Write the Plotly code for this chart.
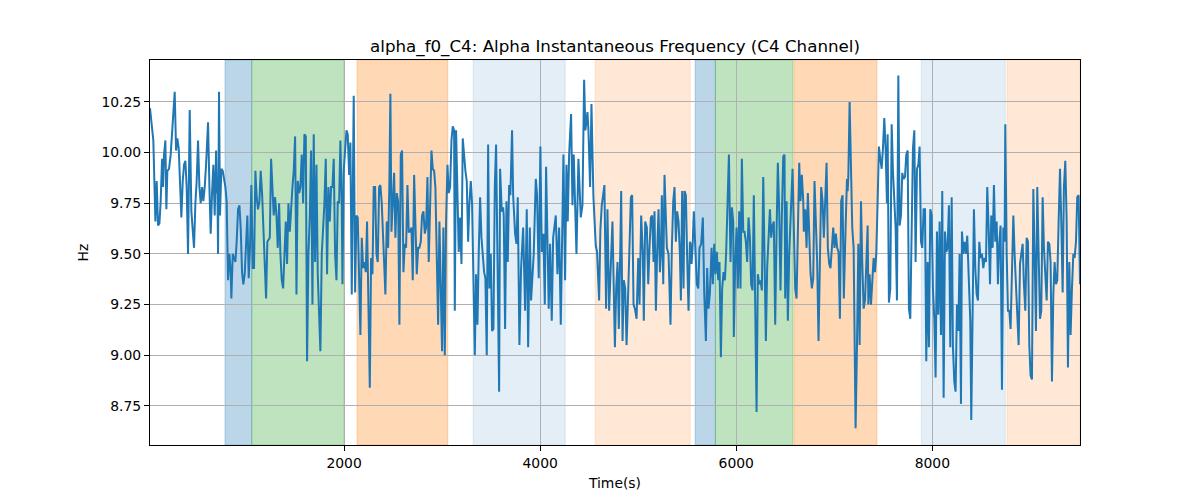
import plotly.graph_objects as go

title_text = "alpha_f0_C4: Alpha Instantaneous Frequency (C4 Channel)"
x_label = "Time(s)"
y_label = "Hz"

# ---- data: time (s) and instantaneous frequency (Hz) ----
t1 = [20,54,75,88,102,116,129,143,153,163,177,187,197,214,231,245,258,272,286,299,313,326,340,354,367,381,394,408,425,442,456,469,483,496,510,524,537,551,564,578,592,612,626,639,653,666,680,694,700,707,714,724,734,748,762,775,789,802,809,816,830,843,850,864,877,891,904,918,932,945,959,972,986,1000,1013,1027,1040,1054,1068,1081,1095,1108,1122,1136,1149,1163,1176,1190,1204,1217]
v1 = [10.22,10.06,9.66,9.86,9.64,9.65,9.76,9.97,9.83,9.99,10.06,9.72,9.91,9.92,9.99,10.09,10.15,10.30,10.01,10.07,10.02,9.86,9.68,9.86,9.94,9.96,9.83,9.50,10.21,9.71,9.60,9.53,9.75,9.86,10.06,9.83,9.75,9.83,9.76,9.83,9.94,10.15,9.83,9.60,9.80,9.94,9.69,10.01,9.80,9.86,9.50,10.30,9.69,9.92,9.91,9.87,9.83,9.76,9.53,9.37,9.50,9.41,9.28,9.50,9.48,9.46,9.56,9.72,9.74,9.63,9.41,9.35,9.40,9.56,9.69,9.38,9.53,9.84,9.43,9.43,9.91,9.78,9.72,9.76,9.91,9.80,9.63,9.43,9.28,9.56]

t2 = [1242,1255,1269,1282,1296,1310,1323,1337,1350,1364,1378,1391,1405,1418,1432,1446,1459,1473,1486,1500,1514,1527,1541,1554,1568,1582,1595,1609,1622,1636,1650,1663,1677,1690,1704,1718,1731,1745,1758,1772,1786,1799,1813,1826,1840,1854,1867,1881,1894,1908,1922,1935,1949,1962,1976,1983,1996,2010,2024,2037,2051,2064,2078,2092,2098,2112,2126,2139,2153,2166,2180,2194,2207,2221,2234,2248,2262,2275,2289,2302,2316,2330,2343,2357,2370,2384,2398,2411]
v2 = [9.58,9.97,9.83,9.69,9.78,9.69,9.53,9.75,9.50,9.37,9.33,9.50,9.66,9.45,9.75,9.61,9.75,9.83,9.91,10.08,9.30,9.86,9.80,9.83,9.99,9.75,10.09,10.08,8.97,9.50,9.69,10.01,9.25,10.09,9.46,9.94,9.40,9.17,9.02,9.50,9.63,9.75,9.97,9.40,9.83,9.66,9.83,9.83,9.97,9.50,9.37,9.76,9.75,10.06,9.75,9.35,9.91,10.01,10.11,10.09,9.89,10.05,9.30,9.99,10.28,9.31,9.69,9.68,9.33,9.10,9.58,9.43,9.46,9.41,9.66,9.17,8.84,9.48,9.40,9.83,9.83,9.50,9.46,9.83,9.84,9.75,9.56,9.41]

t3 = [2421,2435,2449,2462,2472,2483,2496,2510,2523,2537,2551,2564,2578,2591,2605,2619,2632,2646,2659,2673,2687,2700,2714,2727,2741,2755,2768,2782,2795,2809,2823,2836,2850,2863,2877,2891,2904,2918,2931,2945,2959,2972,2986,2999,3013,3027,3040,3054,3067,3081,3095,3108,3122,3129,3142,3156,3169,3183,3197,3210,3224,3237,3251,3265,3278,3292,3305,3319,3333,3346,3360,3373,3387,3401,3414,3428,3441,3455,3469,3482,3496,3509,3523,3537,3550]
v3 = [9.30,9.66,9.53,9.86,10.29,9.61,9.80,9.90,9.58,9.80,9.76,9.15,9.99,10.01,9.41,9.55,9.53,9.84,9.61,9.61,9.63,9.37,9.89,9.63,9.40,9.53,9.53,9.56,9.69,9.71,9.60,9.63,9.88,9.46,9.80,10.01,9.92,9.91,9.83,9.52,9.15,9.66,9.33,9.02,9.63,9.00,9.66,9.94,9.80,9.83,10.06,10.13,10.11,9.22,10.11,9.86,9.51,9.68,9.45,10.07,9.96,9.91,9.86,9.56,9.75,9.86,9.75,9.33,9.00,9.40,9.15,9.50,9.78,9.58,9.50,9.41,9.38,9.00,10.04,9.33,9.50,9.12,9.13,9.83,10.04]

t4 = [3581,3591,3608,3622,3628,3642,3656,3669,3683,3696,3713,3724,3744,3758,3771,3788,3805,3826,3846,3863,3877,3894,3907,3934,3955,3968,3985,4002,4016,4033,4047,4060,4074,4087,4101,4118,4132,4159,4176,4193,4210,4223,4237,4254,4268,4281,4295,4315,4329,4342,4370,4390,4414,4431,4448,4461,4482,4492,4509,4523,4543,4567,4580,4601,4614,4628,4655,4672,4686,4703,4737]
v4 = [8.82,9.92,9.71,9.73,9.69,9.13,9.76,9.46,9.84,9.79,10.11,9.79,9.60,9.55,9.78,9.05,9.43,9.63,9.22,9.72,9.04,9.63,9.27,9.50,9.87,9.79,9.38,10.03,9.51,9.60,9.25,9.93,9.55,9.23,9.55,9.17,9.58,9.69,9.40,9.63,9.15,9.56,9.99,9.37,9.94,9.66,9.99,10.19,9.74,9.99,9.50,9.97,9.68,9.74,10.36,10.11,10.20,10.11,9.83,10.24,9.78,9.54,9.51,9.27,9.62,9.74,9.84,9.23,9.72,9.22,9.66]

t5 = [4762,4775,4789,4802,4816,4826,4840,4853,4867,4881,4894,4911,4925,4938,4952,4966,4983,5000,5013,5030,5047,5057,5071,5088,5102,5115,5129,5142,5156,5166,5180,5193,5207,5221,5231,5241,5255,5268,5282,5292,5309,5329,5343,5357,5370,5384,5397,5411,5425,5435,5448,5462,5472,5486,5499,5513,5527,5533,5544,5554,5567,5581,5598,5612,5625,5642,5659,5673,5690,5703,5717,5731,5748,5761,5775,5788,5802,5816,5829,5843,5856,5870,5884,5897,5911,5925]
v5 = [9.04,9.33,9.46,9.13,9.50,9.81,9.07,9.37,9.33,9.05,9.25,9.50,9.78,9.79,9.25,9.23,9.18,9.48,9.25,9.69,9.50,9.17,9.66,9.63,9.35,9.53,9.68,9.69,9.46,9.71,9.22,9.51,9.72,9.41,9.50,9.79,9.35,9.89,9.69,9.53,9.50,9.15,9.53,9.76,9.83,9.56,9.71,9.66,9.50,9.27,9.81,9.33,9.81,9.79,9.48,9.22,9.56,9.55,9.45,9.53,9.71,9.53,9.35,9.33,9.53,9.55,9.68,9.31,9.07,9.43,9.23,9.31,9.53,9.35,9.55,9.40,9.51,9.37,9.46,8.99,9.33,9.41,9.37,9.51,9.78,9.99]

t6 = [5941,5955,5969,5975,5989,6003,6016,6030,6043,6057,6071,6084,6098,6111,6125,6139,6152,6166,6179,6193,6207,6220,6234,6247,6261,6275,6288,6302,6315,6329,6343,6356,6370,6383,6397,6411,6424,6438,6451,6465,6479,6492,6499,6513,6526,6540,6553,6567,6574,6587,6601,6615,6628,6642,6655,6669,6683,6689,6703,6717,6730,6744,6757,6771,6785,6798,6812,6825,6839,6853,6866,6880,6893,6907,6921,6934,6948,6961,6975,6989,7002,7016,7029,7043,7057,7070,7084,7097]
v6 = [9.46,9.73,9.66,9.09,9.45,9.63,9.33,9.71,9.33,9.97,9.61,9.61,9.56,9.46,9.68,9.58,9.35,9.32,9.79,9.20,8.72,9.40,9.35,9.37,9.32,9.88,9.38,9.07,9.43,9.56,9.72,9.58,9.64,9.66,9.15,9.61,9.95,9.71,9.32,9.69,9.98,9.99,9.28,9.76,9.17,9.50,9.66,9.86,9.92,9.63,9.33,9.28,9.63,9.95,9.76,9.89,9.76,9.61,9.72,9.53,9.80,9.56,9.41,9.33,9.38,9.86,9.64,9.46,9.07,9.50,9.83,9.76,9.58,9.76,9.95,9.53,9.45,9.43,9.56,9.63,9.53,9.60,9.53,9.51,9.18,9.76,9.79,9.28]

t7 = [7115,7129,7136,7143,7156,7170,7183,7197,7217,7231,7245,7258,7272,7285,7299,7313,7326,7340,7347,7360,7374,7387,7401,7415,7428,7442,7455,7469,7483,7496,7510,7523,7537,7544,7557,7571,7585,7598,7612,7625,7639,7653,7666,7680,7693,7707,7721,7734,7748,7761,7775,7789,7802,7816,7829,7843,7857,7870,7884,7897,7911,7925,7938,7952,7965,7979,7993,8006,8020,8033,8047,8061,8074,8088,8101,8115,8129,8142,8156,8169,8183,8197,8210,8224,8237,8251,8265,8278]
v7 = [9.63,9.87,9.81,9.88,10.25,9.83,9.63,9.53,8.64,9.04,9.55,9.05,9.76,9.46,9.23,9.27,9.41,9.64,9.25,9.40,9.25,9.40,9.48,9.41,9.50,9.76,10.03,9.97,9.92,10.02,10.17,10.02,9.75,10.09,9.26,9.33,10.14,9.91,9.78,9.63,9.27,10.38,9.64,9.69,9.90,9.87,9.88,9.99,10.01,9.23,9.18,9.78,10.02,10.11,9.46,9.92,9.94,10.03,9.56,9.53,9.72,9.72,8.97,9.46,9.04,9.72,9.69,9.33,9.18,8.89,9.61,9.20,9.66,9.10,9.81,8.79,9.61,9.51,9.53,9.74,9.04,9.78,9.04,8.87,8.82,9.25,9.12,9.50]

t8 = [8292,8302,8316,8329,8343,8356,8370,8387,8397,8411,8424,8438,8452,8465,8479,8492,8506,8520,8533,8547,8560,8574,8588,8601,8615,8628,8642,8656,8669,8683,8696,8710,8724,8737,8744,8758,8771,8785,8798,8812,8826,8839,8853,8866,8880,8894,8907,8921,8934,8948,8962,8975,8989,9002,9016,9030,9043,9057,9070,9084,9098,9111,9125,9138,9152,9166,9179,9193,9206,9220,9234,9247,9261,9274,9288,9302,9315,9329,9342,9356,9370,9383,9397,9410,9424,9438,9451,9465,9478,9492,9506]
v8 = [8.76,9.61,9.50,9.56,9.50,9.59,9.41,9.17,8.68,9.20,9.72,9.43,9.30,9.27,9.56,9.48,9.50,9.43,9.48,9.46,9.83,9.63,9.35,9.69,9.53,9.84,9.56,9.66,9.35,9.56,9.64,8.83,9.63,9.56,10.14,9.50,9.22,9.22,9.13,9.41,9.69,9.50,9.33,9.20,9.05,9.45,9.50,9.55,9.35,9.22,9.58,9.56,9.05,8.90,8.88,9.82,9.50,9.12,9.83,9.56,9.18,9.22,9.78,9.53,9.41,9.27,9.56,9.55,9.46,8.87,9.30,9.46,9.35,9.37,9.66,9.92,9.66,9.31,9.83,9.96,9.66,8.94,9.46,9.10,9.33,9.50,9.48,9.56,9.78,9.79,9.35]

# shaded intervals (s) and their kind
span_start = [785, 1058, 2132, 3316, 4561, 5581, 5787, 6588, 7887, 8762]
span_end   = [1058, 2000, 3058, 4255, 5530, 5787, 6578, 7435, 8744, 9506]
span_kind  = ["blue", "green", "orange", "lightblue", "lightorange",
              "blue", "green", "orange", "lightblue", "lightorange"]

y_ticks = [8.75, 9.00, 9.25, 9.50, 9.75, 10.00, 10.25]
x_ticks = [2000, 4000, 6000, 8000]

# ---- assemble ----
times, values = [], []
for tt, vv in [(t1, v1), (t2, v2), (t3, v3), (t4, v4), (t5, v5), (t6, v6), (t7, v7), (t8, v8)]:
    n = min(len(tt), len(vv))
    times += tt[:n]
    values += vv[:n]

kind_fill = {
    "blue": "rgba(31,119,180,0.3)",
    "green": "rgba(44,160,44,0.3)",
    "orange": "rgba(255,127,14,0.3)",
    "lightblue": "rgba(31,119,180,0.12)",
    "lightorange": "rgba(255,127,14,0.17)",
}

FONT = "DejaVu Sans, Liberation Sans, sans-serif"

fig = go.Figure()
fig.add_trace(go.Scatter(x=times, y=values, mode="lines",
                         line=dict(color="#1f77b4", width=2), showlegend=False))

for s, e, k in zip(span_start, span_end, span_kind):
    fig.add_shape(type="rect", xref="x", yref="paper", x0=s, x1=e, y0=0, y1=1,
                  fillcolor=kind_fill[k], line=dict(color=kind_fill[k], width=1),
                  layer="below")

# the page body adds an 8px offset, so margins are shifted to compensate
fig.update_layout(
    width=1200, height=500,
    margin=dict(l=142, r=128, t=52, b=63),
    paper_bgcolor="white", plot_bgcolor="white",
    font=dict(family=FONT, size=13.9, color="black"),
    title=dict(text=title_text, x=0.5, xref="paper", y=(500 - 38) / 500,
               yref="container", xanchor="center", yanchor="middle",
               font=dict(family=FONT, size=16.7, color="black")),
)
fig.update_xaxes(
    range=[times[0], times[-1]], tickvals=x_ticks, ticktext=[str(v) for v in x_ticks],
    showgrid=True, gridcolor="#b0b0b0", gridwidth=0.8, zeroline=False,
    showline=True, linecolor="black", linewidth=1, mirror=True,
    ticks="outside", ticklen=5, tickcolor="black", tickwidth=1,
    title=dict(text=x_label, standoff=8, font=dict(family=FONT, size=13.9)),
)
fig.update_yaxes(
    range=[8.557, 10.457], tickvals=y_ticks, ticktext=[f"{v:.2f}" for v in y_ticks],
    showgrid=True, gridcolor="#b0b0b0", gridwidth=0.8, zeroline=False,
    showline=True, linecolor="black", linewidth=1, mirror=True,
    ticks="outside", ticklen=5, tickcolor="black", tickwidth=1,
    title=dict(text=y_label, standoff=9, font=dict(family=FONT, size=13.9)),
)

fig.write_html("out.html")
